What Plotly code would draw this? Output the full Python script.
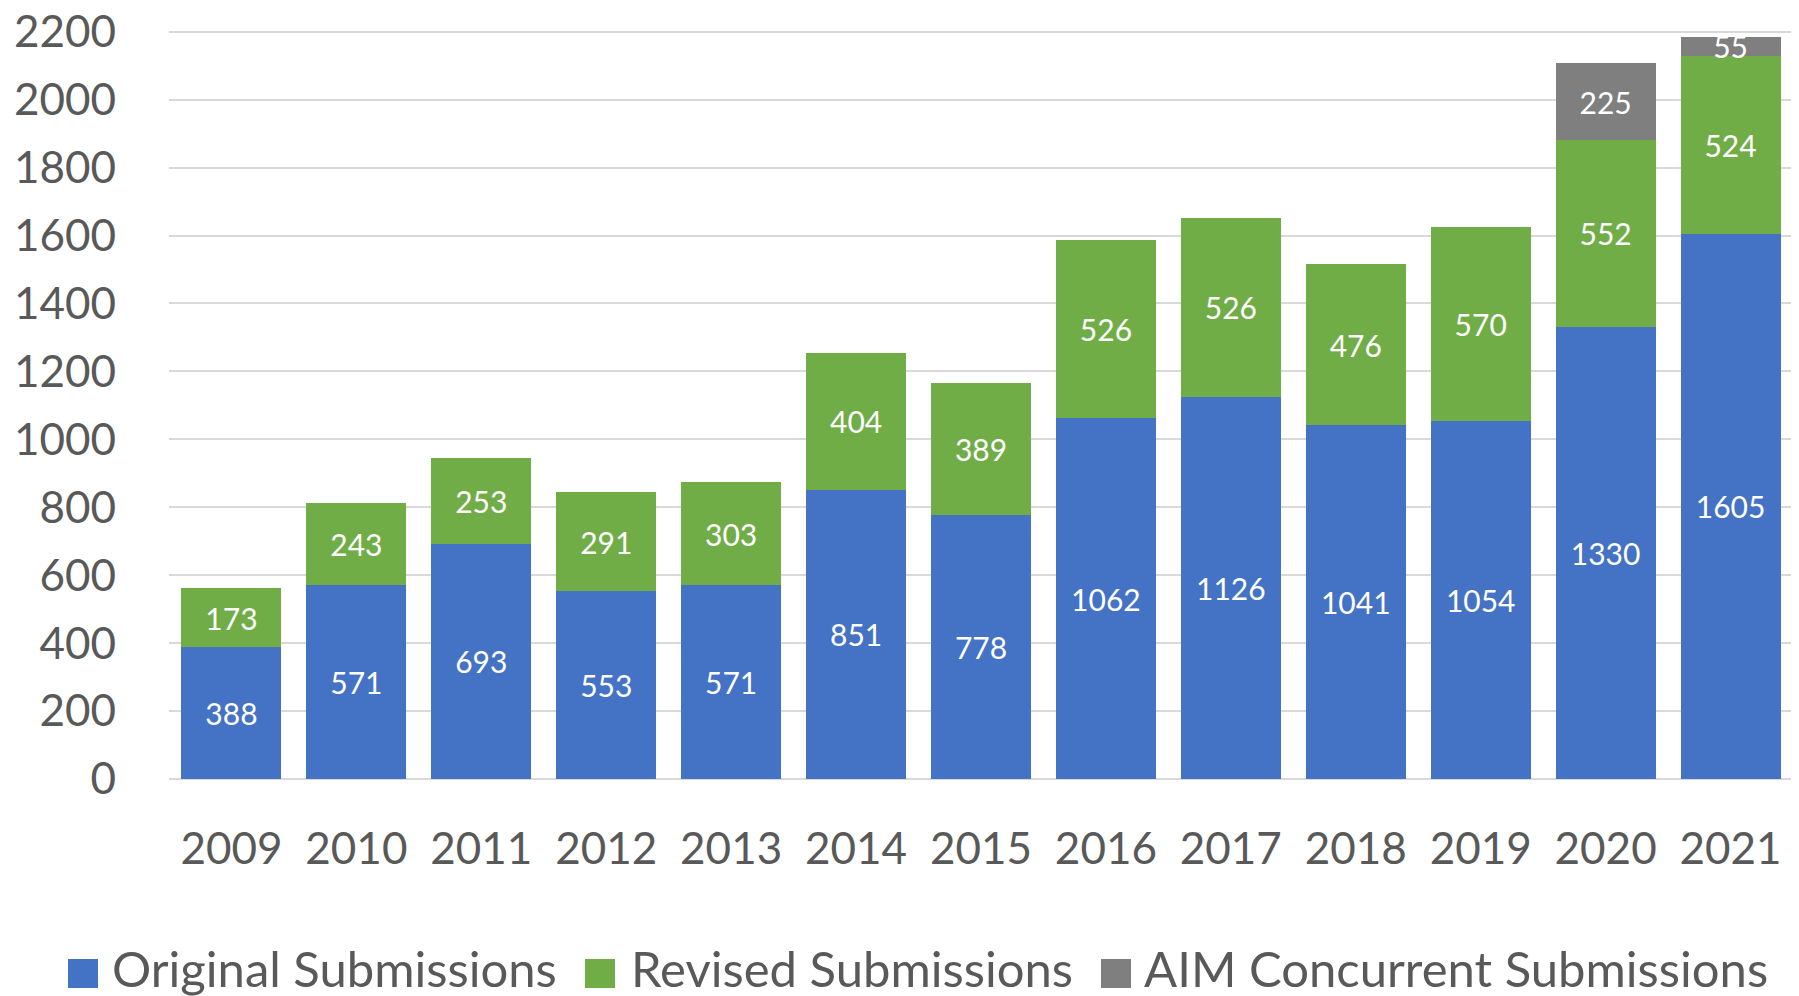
import plotly.graph_objects as go

years = ["2009", "2010", "2011", "2012", "2013", "2014", "2015",
         "2016", "2017", "2018", "2019", "2020", "2021"]
original = [388, 571, 693, 553, 571, 851, 778, 1062, 1126, 1041, 1054, 1330, 1605]
revised = [173, 243, 253, 291, 303, 404, 389, 526, 526, 476, 570, 552, 524]
aim = [None, None, None, None, None, None, None, None, None, None, None, 225, 55]

series_names = ["Original Submissions", "Revised Submissions", "AIM Concurrent Submissions"]
series_colors = ["#4472C4", "#70AD47", "#7F7F7F"]

FONT = "Lato"
# the page body has an 8px margin, so the figure is a bit smaller and offset
OFF = 8
W, H = 1799 - OFF, 996 - OFF
L, R, T, B = 169 - OFF, 6, 30 - OFF, 217
pw, ph = W - L - R, H - T - B


def px_x(px):
    # screen pixel -> paper fraction
    return (px - OFF - L) / pw


def px_y(py):
    return (H - B - (py - OFF)) / ph


fig = go.Figure()
for name, vals, col in zip(series_names, [original, revised, aim], series_colors):
    fig.add_trace(go.Bar(
        x=years, y=vals, name=name, marker_color=col, marker_line_width=0,
        text=vals, textposition="inside", insidetextanchor="middle",
        constraintext="none", textangle=0,
        textfont=dict(family=FONT, size=30, color="white"),
        showlegend=False,
    ))

# legend drawn by hand so the swatches match the big squares of the original
sw_left = [68, 585, 1101]
txt_left = [110, 629, 1142]
for name, col, sx, tx in zip(series_names, series_colors, sw_left, txt_left):
    fig.add_shape(type="rect", xref="paper", yref="paper",
                  x0=px_x(sx), x1=px_x(sx + 30), y0=px_y(988), y1=px_y(959),
                  fillcolor=col, line_width=0)
    fig.add_annotation(xref="paper", yref="paper", x=px_x(tx), y=px_y(968),
                       xanchor="left", yanchor="middle", showarrow=False,
                       text=name, font=dict(family=FONT, size=49, color="#595959"))

fig.update_layout(
    barmode="stack",
    bargap=0.2,
    width=W, height=H,
    margin=dict(l=L, r=R, t=T, b=B),
    plot_bgcolor="white",
    paper_bgcolor="white",
    font=dict(family=FONT, color="#595959"),
)
fig.update_xaxes(
    type="category", automargin=False,
    tickfont=dict(family=FONT, size=44, color="#595959"),
    ticks="", ticklabelstandoff=40,
    showline=False, showgrid=False,
)
# a hair above 2200 so plotly keeps the top gridline
fig.update_yaxes(
    range=[0, 2205], tick0=0, dtick=200, automargin=False,
    ticklabeloverflow="allow",
    tickfont=dict(family=FONT, size=44, color="#595959"),
    ticks="", ticklabelstandoff=52,
    showgrid=True, gridcolor="#D9D9D9", gridwidth=2,
    zeroline=True, zerolinecolor="#D9D9D9", zerolinewidth=2,
    showline=False,
)

fig.write_html("out.html")
